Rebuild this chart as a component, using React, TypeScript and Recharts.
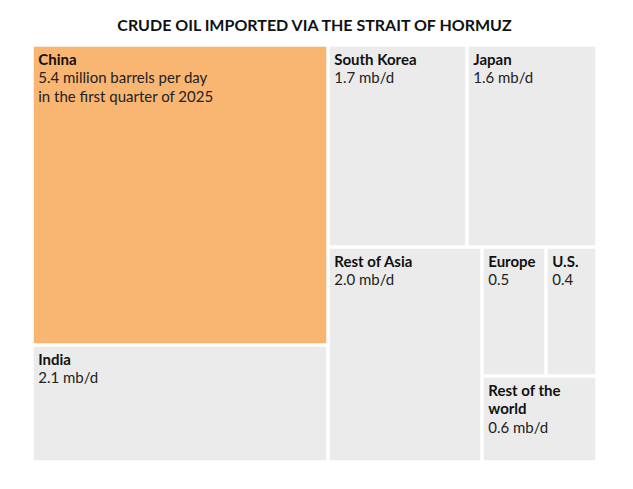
import React from "react"
import { Treemap } from "recharts"

const regions = [
  "China",
  "India",
  "South Korea",
  "Japan",
  "Rest of Asia",
  "Europe",
  "U.S.",
  "Rest of the world",
]

// million barrels per day, Q1 2025
const barrelsPerDay = [5.4, 2.1, 1.7, 1.6, 2.0, 0.5, 0.4, 0.6]

const nameLines = [
  ["China"],
  ["India"],
  ["South Korea"],
  ["Japan"],
  ["Rest of Asia"],
  ["Europe"],
  ["U.S."],
  ["Rest of the", "world"],
]

const valueLines = [
  ["5.4 million barrels per day", "in the first quarter of 2025"],
  ["2.1 mb/d"],
  ["1.7 mb/d"],
  ["1.6 mb/d"],
  ["2.0 mb/d"],
  ["0.5"],
  ["0.4"],
  ["0.6 mb/d"],
]

const ORANGE = "#F9B572"
const GREY = "#EBEBEB"
const FONT = "Lato, 'Noto Sans', sans-serif"

const leaf = (i: number) => ({
  name: regions[i],
  value: barrelsPerDay[i],
  nameLines: nameLines[i],
  valueLines: valueLines[i],
})

// grouping keeps the tiles where the original put them
const data = [
  { name: "left", children: [leaf(0), leaf(1)] },
  {
    name: "right",
    children: [
      { name: "top", children: [leaf(2), leaf(3)] },
      {
        name: "bottom",
        children: [
          leaf(4),
          {
            name: "small",
            children: [{ name: "eu-us", children: [leaf(5), leaf(6)] }, leaf(7)],
          },
        ],
      },
    ],
  },
]

const GAP = 1.75

function Tile(props: any) {
  const { x, y, width, height, name, children } = props
  if (children && children.length) return null
  if (!props.nameLines) return null
  const tx = x + GAP + 4.5
  let ty = y + GAP + 17.8
  const lines: React.ReactNode[] = []
  props.nameLines.forEach((line: string, i: number) => {
    lines.push(
      <text key={"n" + i} x={tx} y={ty} fontSize={15} fontWeight={700} fill="#111">
        {line}
      </text>
    )
    ty += 18.8
  })
  props.valueLines.forEach((line: string, i: number) => {
    lines.push(
      <text key={"v" + i} x={tx} y={ty} fontSize={15} fill="#222">
        {line}
      </text>
    )
    ty += 18.8
  })
  return (
    <g>
      <rect
        x={x + GAP}
        y={y + GAP}
        width={width - GAP * 2}
        height={height - GAP * 2}
        fill={name === "China" ? ORANGE : GREY}
      />
      {lines}
    </g>
  )
}

export default function App() {
  return (
    <div style={{ width: 617, fontFamily: FONT }}>
      <div
        style={{
          height: 37,
          width: 565,
          marginLeft: 24,
          textAlign: "center",
          fontWeight: 700,
          fontSize: 16,
          lineHeight: "33px",
          color: "#111",
        }}
      >
        CRUDE OIL IMPORTED VIA THE STRAIT OF HORMUZ
      </div>
      <div style={{ marginLeft: 24 }}>
        <Treemap
          width={565}
          height={417}
          data={data}
          dataKey="value"
          aspectRatio={1.31}
          isAnimationActive={false}
          content={<Tile />}
        />
      </div>
    </div>
  )
}
